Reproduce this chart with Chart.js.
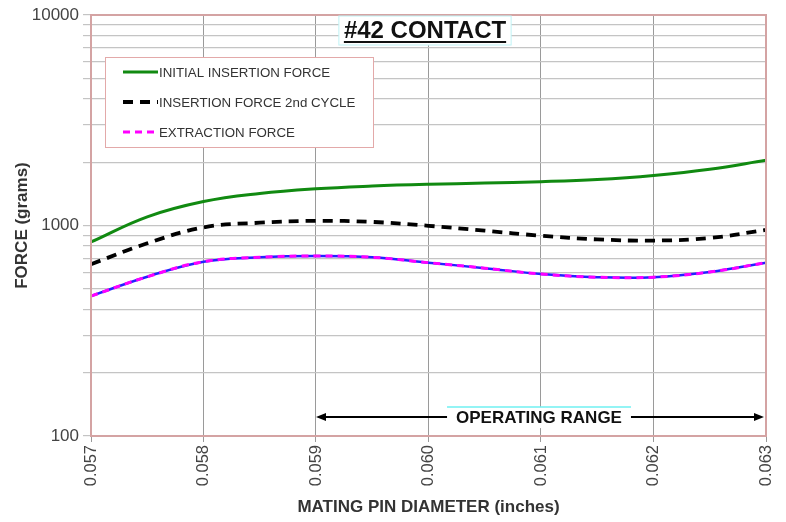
<!DOCTYPE html>
<html>
<head>
<meta charset="utf-8">
<script src="https://cdn.jsdelivr.net/npm/chart.js@4"></script>
<style>
  html, body { margin: 0; padding: 0; background: #fff; }
  #wrap { width: 786px; height: 522px; }
</style>
</head>
<body>
<div id="wrap"><canvas id="chart" width="786" height="522"></canvas></div>
<script>
// Datos
const diameters = [0.057, 0.0575, 0.058, 0.0585, 0.059, 0.0595, 0.060, 0.0605, 0.061, 0.0615, 0.062, 0.0625, 0.063];
const initialForce = [835, 1100, 1300, 1420, 1495, 1540, 1570, 1590, 1615, 1655, 1730, 1850, 2040];
const secondCycle = [655, 823, 980, 1031, 1052, 1040, 997, 945, 894, 859, 848, 872, 953];
const extraction = [462, 571, 673, 706, 716, 706, 666, 627, 588, 568, 568, 601, 666];
const yTicks = [100, 200, 300, 400, 500, 600, 700, 800, 900, 1000, 2000, 3000, 4000, 5000, 6000, 7000, 8000, 9000, 10000];
const chartTitle = "#42 CONTACT";
const rangeLabel = "OPERATING RANGE";
const rangeStart = 0.059, rangeEnd = 0.063, rangeLevel = 123;

const toPoints = (values) => diameters.map((d, i) => ({ x: d, y: values[i] }));

const FONT = "'Liberation Sans', Arial, sans-serif";

// Plugin: borde, titulo, leyenda y rango de operacion
const decorations = {
    id: "decorations",
    afterDraw(chart) {
        const { ctx, chartArea: a, scales } = chart;
        ctx.save();

        // borde del area de trazado
        ctx.strokeStyle = "#d4a3a3";
        ctx.lineWidth = 2;
        ctx.strokeRect(a.left, a.top, a.right - a.left, a.bottom - a.top);

        // titulo
        ctx.font = "bold 24px " + FONT;
        const tw = ctx.measureText(chartTitle).width;
        const tx = 425, ty = 31;
        ctx.fillStyle = "#fff";
        ctx.fillRect(tx - tw / 2 - 5, a.top + 1, tw + 10, 29);
        ctx.strokeStyle = "#bff3f5";
        ctx.lineWidth = 1;
        ctx.strokeRect(tx - tw / 2 - 5, a.top + 1, tw + 10, 29);
        ctx.fillStyle = "#111";
        ctx.textAlign = "center";
        ctx.textBaseline = "middle";
        ctx.fillText(chartTitle, tx, ty);
        ctx.fillRect(tx - tw / 2, ty + 10, tw, 2);

        // leyenda
        ctx.fillStyle = "#fff";
        ctx.fillRect(105, 57, 268, 90);
        ctx.strokeStyle = "#e3a9a9";
        ctx.lineWidth = 1;
        ctx.strokeRect(105.5, 57.5, 268, 90);
        const items = chart.data.datasets.filter((d) => !d.hideInLegend);
        items.forEach((ds, i) => {
            const y = 72 + i * 30;
            ctx.beginPath();
            ctx.setLineDash(ds.borderDash || []);
            ctx.strokeStyle = ds.borderColor;
            ctx.lineWidth = ds.borderWidth;
            ctx.moveTo(123, y);
            ctx.lineTo(158, y);
            ctx.stroke();
            ctx.setLineDash([]);
            ctx.fillStyle = "#333";
            ctx.font = "13.3px " + FONT;
            ctx.textAlign = "left";
            ctx.fillText(ds.label, 159, y + 1);
        });

        // rango de operacion
        const x1 = scales.x.getPixelForValue(rangeStart);
        const x2 = scales.x.getPixelForValue(rangeEnd) - 2;
        const ry = scales.y.getPixelForValue(rangeLevel);
        ctx.strokeStyle = "#000";
        ctx.fillStyle = "#000";
        ctx.lineWidth = 2;
        ctx.beginPath();
        ctx.moveTo(x1 + 6, ry);
        ctx.lineTo(x2 - 6, ry);
        ctx.stroke();
        [[x1, 1], [x2, -1]].forEach(([x, dir]) => {
            ctx.beginPath();
            ctx.moveTo(x, ry);
            ctx.lineTo(x + dir * 10, ry - 4);
            ctx.lineTo(x + dir * 10, ry + 4);
            ctx.closePath();
            ctx.fill();
        });
        ctx.font = "bold 17px " + FONT;
        const rw = ctx.measureText(rangeLabel).width;
        const rx = 539;
        ctx.fillStyle = "#fff";
        ctx.fillRect(rx - rw / 2 - 9, ry - 10, rw + 18, 21);
        ctx.strokeStyle = "#6ff0f2";
        ctx.lineWidth = 1.5;
        ctx.beginPath();
        ctx.moveTo(rx - rw / 2 - 9, ry - 10);
        ctx.lineTo(rx + rw / 2 + 9, ry - 10);
        ctx.stroke();
        ctx.fillStyle = "#111";
        ctx.textAlign = "center";
        ctx.fillText(rangeLabel, rx, ry + 1);

        ctx.restore();
    },
};

const ctx = document.getElementById("chart").getContext("2d");
new Chart(ctx, {
    type: "line",
    data: {
        datasets: [
            {
                label: "INITIAL INSERTION FORCE",
                data: toPoints(initialForce),
                borderColor: "#118a11",
                borderWidth: 3,
                pointRadius: 0,
                tension: 0.4,
            },
            {
                label: "INSERTION FORCE 2nd CYCLE",
                data: toPoints(secondCycle),
                borderColor: "#000",
                borderWidth: 3.8,
                borderDash: [10, 7],
                pointRadius: 0,
                tension: 0.4,
            },
            {
                label: "EXTRACTION FORCE",
                data: toPoints(extraction),
                borderColor: "#ff00ff",
                borderWidth: 3,
                borderDash: [7, 5],
                pointRadius: 0,
                tension: 0.4,
                order: 0,
            },
            {
                label: "extraction base",
                hideInLegend: true,
                data: toPoints(extraction),
                borderColor: "#2222ff",
                borderWidth: 2.5,
                pointRadius: 0,
                tension: 0.4,
                order: 1,
            },
        ],
    },
    options: {
        responsive: false,
        animation: false,
        layout: { padding: { top: 15, right: 20, bottom: 0, left: 0 } },
        plugins: {
            legend: { display: false },
            tooltip: { enabled: false },
        },
        scales: {
            x: {
                type: "linear",
                min: 0.057,
                max: 0.063,
                ticks: {
                    stepSize: 0.001,
                    minRotation: 90,
                    maxRotation: 90,
                    color: "#444",
                    font: { family: FONT, size: 16.5 },
                    callback: (v) => v.toFixed(3),
                },
                grid: { color: "#9a9a9a", lineWidth: 1, tickLength: 6 },
                border: { display: false },
                title: {
                    display: true,
                    text: "MATING PIN DIAMETER (inches)",
                    color: "#333",
                    font: { family: FONT, size: 17, weight: "bold" },
                    padding: { top: 2 },
                },
                afterFit: (scale) => {
                    scale.height = 86;
                    scale.paddingLeft = 0;
                    scale.paddingRight = 0;
                },
            },
            y: {
                type: "logarithmic",
                min: 100,
                max: 10000,
                afterBuildTicks: (scale) => {
                    scale.ticks = yTicks.map((v) => ({ value: v }));
                },
                ticks: {
                    autoSkip: false,
                    color: "#444",
                    padding: 4,
                    font: { family: FONT, size: 17 },
                    callback: (v) => (Number.isInteger(Math.log10(v)) ? String(v) : ""),
                },
                grid: { color: "#c4c4c4", lineWidth: 1.2, tickLength: 8 },
                border: { display: false },
                title: {
                    display: true,
                    text: "FORCE (grams)",
                    color: "#333",
                    font: { family: FONT, size: 17, weight: "bold" },
                    padding: { top: 12, bottom: 2 },
                },
                afterFit: (scale) => { scale.width = 91; },
            },
        },
    },
    plugins: [decorations],
});
</script>
</body>
</html>
